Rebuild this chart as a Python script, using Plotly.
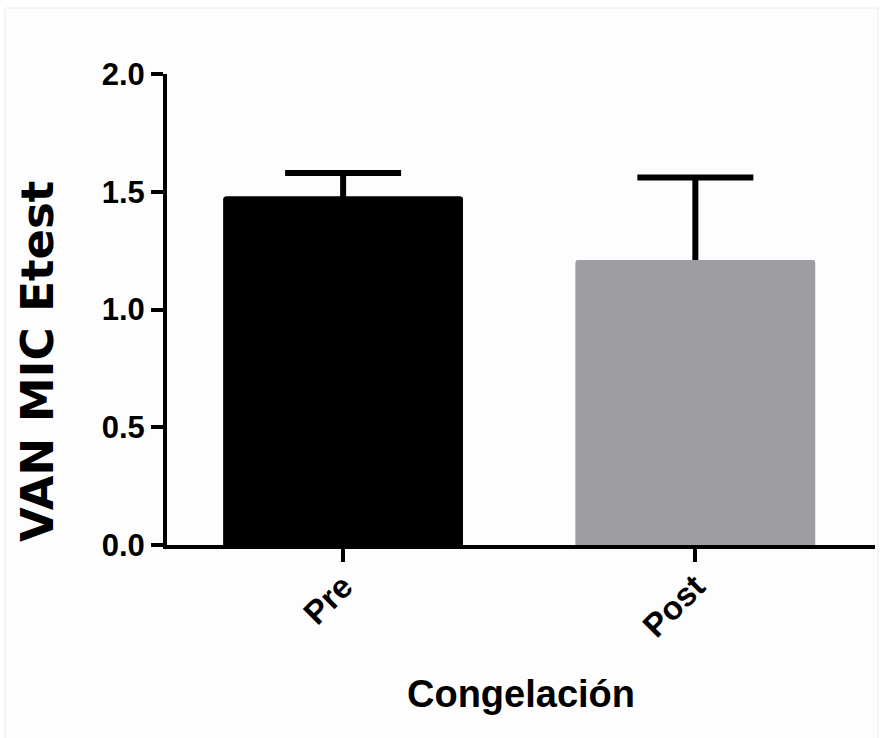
import plotly.graph_objects as go

# Group means and upper SD for the VAN MIC Etest readings
groups = ["Pre", "Post"]
means = [1.48, 1.21]
sd_upper = [0.10, 0.35]
bar_colors = ["#000000", "#9e9da2"]

y_ticks = [0.0, 0.5, 1.0, 1.5, 2.0]
y_tick_text = ["0.0", "0.5", "1.0", "1.5", "2.0"]

W, H = 881, 738
L, R, T, B = 167, 6, 74, 193
pw, ph = W - L - R, H - T - B


def px_to_paper(x, y):
    return (x - L) / pw, (H - B - y) / ph


bar_style = dict(color=bar_colors, line=dict(width=0), cornerradius=3)

fig = go.Figure()
# bars carrying the upward SD whiskers; the lower end of each whisker
# sits inside the bar and is hidden by the identical bars drawn on top
fig.add_trace(go.Bar(
    x=groups,
    y=means,
    width=0.68,
    marker=bar_style,
    error_y=dict(
        type="data",
        symmetric=False,
        array=sd_upper,
        arrayminus=[0.08, 0.08],
        color="#000000",
        thickness=6,
        width=58,
    ),
    showlegend=False,
    hoverinfo="skip",
))
fig.add_trace(go.Bar(
    x=groups,
    y=means,
    width=0.68,
    marker=bar_style,
    showlegend=False,
))

# light frame around the figure
x0, y0 = px_to_paper(5, 8)
x1, y1 = px_to_paper(878, 740)
fig.add_shape(type="rect", xref="paper", yref="paper",
              x0=x0, y0=y1, x1=x1, y1=y0,
              line=dict(color="#ebebeb", width=1),
              fillcolor="#fdfdfd", layer="below")

# y-axis title placed as a rotated annotation
tx, ty = px_to_paper(37, 362)
fig.add_annotation(
    text="VAN MIC Etest", xref="paper", yref="paper", x=tx, y=ty,
    xanchor="center", yanchor="middle", textangle=-90, showarrow=False,
    font=dict(family="DejaVu Sans, sans-serif", size=45, color="#000000", weight="bold"),
)

tick_font = dict(family="Liberation Sans, Arial, sans-serif", size=31, color="#000000", weight="bold")

fig.update_layout(
    width=W, height=H,
    margin=dict(l=L, r=R, t=T, b=B, autoexpand=False),
    paper_bgcolor="#ffffff",
    plot_bgcolor="rgba(0,0,0,0)",
    barmode="overlay",
    xaxis=dict(
        type="category",
        range=[-0.5, 1.51],
        showline=True, linewidth=4, linecolor="#000000",
        ticks="outside", ticklen=13, tickwidth=4, tickcolor="#000000",
        tickangle=-45,
        ticklabelstandoff=-8,
        tickfont=dict(tick_font, size=33),
        showgrid=False, zeroline=False,
        title=dict(text="Congelación", standoff=38,
                   font=dict(family="Liberation Sans, Arial, sans-serif", size=38,
                             color="#000000", weight="bold")),
    ),
    yaxis=dict(
        range=[0, 2.0],
        tickmode="array", tickvals=y_ticks, ticktext=y_tick_text,
        showline=True, linewidth=4, linecolor="#000000",
        ticks="outside", ticklen=12, tickwidth=4, tickcolor="#000000",
        tickfont=tick_font,
        showgrid=False, zeroline=False,
    ),
)

fig.write_html("out.html")
